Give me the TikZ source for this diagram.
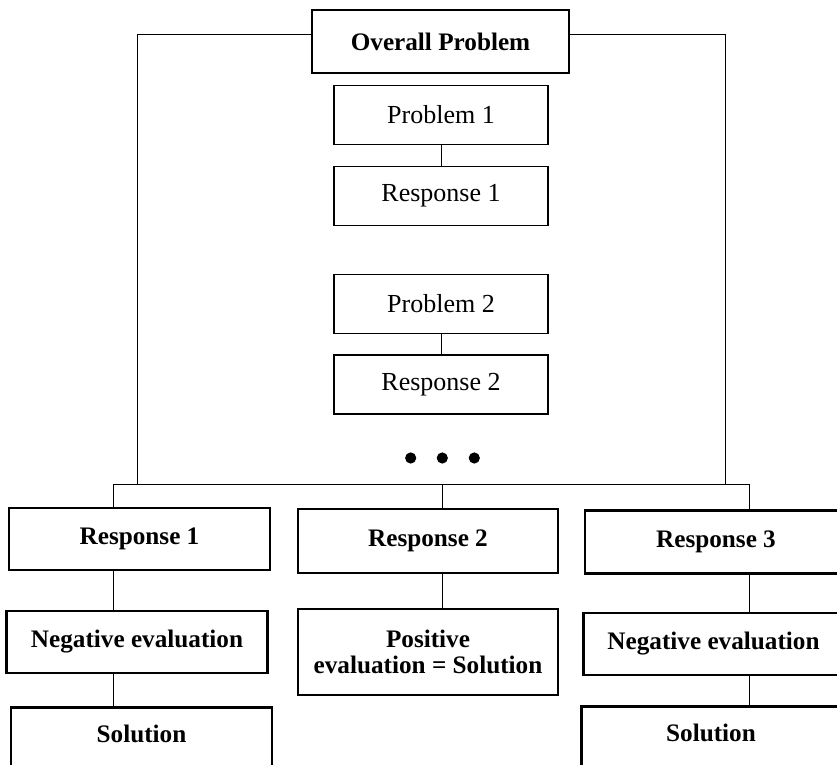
\documentclass[tikz,border=0pt]{standalone}
\usepackage{fontspec}
\setmainfont{Liberation Serif}
\newcommand{\boxfont}{\fontsize{12.6pt}{13.2pt}\selectfont}
\tikzset{
  probbox/.style={draw,line width=0.7pt,font=\fontsize{13pt}{15pt}\selectfont,minimum width=107pt,minimum height=29.5pt,inner sep=0pt},
  boldbox/.style={draw,line width=1.4pt,font=\boxfont\bfseries,minimum width=130.5pt,minimum height=31pt,inner sep=0pt,align=center},
  solbox/.style={boldbox,anchor=north,minimum height=0pt,text height=17.7pt,text depth=22pt},
  bigdot/.style={circle,fill,inner sep=0pt,minimum size=5.6pt},
}
\begin{document}
\begin{tikzpicture}[x=0.5pt,y=-0.5pt,line width=0.5pt,font=\boxfont]
\clip (0,0) rectangle (837,765);
\node[boldbox,minimum width=128.5pt,minimum height=31.5pt] (overall) at (440.5,41.5) {Overall Problem};
\node[probbox] (p1) at (441,115) {Problem 1};
\node[probbox] (r1) at (441,196) {Response 1};
\node[probbox] (p2) at (441,304) {Problem 2};
\node[probbox] (r2) at (441,384.5) {Response 2};
\node[bigdot] (d1) at (410.7,458) {};
\node[bigdot] (d2) at (442.3,458) {};
\node[bigdot] (d3) at (474.3,458) {};
\node[boldbox] (resA) at (139.5,539) {Response 1};
\node[boldbox,minimum width=130pt,minimum height=32pt] (resB) at (428,541) {Response 2};
\node[boldbox,minimum width=131pt,minimum height=31.5pt] (resC) at (716,542) {Response 3};
\node[boldbox] (negA) at (137,642) {Negative evaluation};
\node[boldbox,minimum width=130pt,minimum height=43pt] (posB) at (428,652) {Positive\\evaluation = Solution};
\node[boldbox,minimum width=130pt] (negC) at (713.5,644) {Negative evaluation};
\node[solbox] (solA) at (141.5,706) {Solution};
\node[solbox,minimum width=129.5pt] (solC) at (711,705) {Solution};

\coordinate (fl) at (137.7,484.3);
\coordinate (fr) at (725.5,484.3);
\coordinate (ja) at (113.5,484.3);
\coordinate (jb) at (442.7,484.3);
\coordinate (jc) at (749,484.3);

\draw ([yshift=3.6pt]overall.west) -| (fl);
\draw ([yshift=3.6pt]overall.east) -| (fr);
\draw (p1) -- (r1);
\draw (p2) -- (r2);
\draw (ja) -- (jc);
\draw (ja) -- (ja |- resA.north);
\draw (jb) -- (jb |- resB.north);
\draw (jc) -- (jc |- resC.north);
\draw (ja |- resA.south) -- (ja |- negA.north);
\draw (ja |- negA.south) -- (ja |- solA.north);
\draw (jb |- resB.south) -- (jb |- posB.north);
\draw (jc |- resC.south) -- (jc |- negC.north);
\draw (jc |- negC.south) -- (jc |- solC.north);

\end{tikzpicture}
\end{document}
